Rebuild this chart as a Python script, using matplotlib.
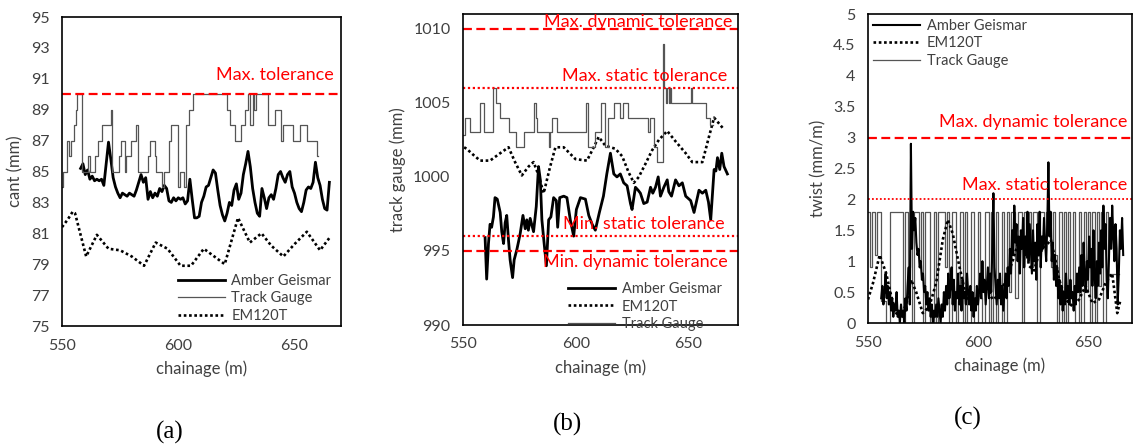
import numpy as np
import matplotlib
matplotlib.use("Agg")
import matplotlib.pyplot as plt

plt.rcParams['font.family'] = ['Lato', 'DejaVu Sans']

# ---------------- panel (a): cant ----------------
cant_amber_x = list(range(558, 666))
cant_amber = [85.2, 85.5, 84.8, 85.1, 84.5, 84.7, 84.4, 84.5, 84.4, 84.5,
              84.1, 85.5, 86.9, 85.8, 84.6, 84.0, 83.6, 83.3, 83.6, 83.5,
              83.4, 83.6, 83.5, 83.4, 83.8, 84.3, 84.8, 84.3, 84.6, 83.2,
              83.7, 83.3, 83.6, 83.4, 83.9, 83.7, 84.1, 83.9, 83.1, 83.0,
              83.3, 83.1, 83.3, 83.2, 83.3, 82.9, 83.1, 84.5, 83.2, 82.0,
              82.0, 82.1, 83.0, 83.4, 84.0, 84.1, 84.6, 85.1, 84.9, 83.8,
              82.8, 82.2, 81.8, 82.3, 83.0, 82.8, 83.8, 84.2, 83.2, 83.6,
              84.8, 85.5, 86.3, 85.3, 83.9, 83.0, 82.3, 82.1, 83.9, 83.3,
              82.6, 83.3, 83.5, 83.2, 83.9, 84.8, 85.0, 84.6, 84.3, 84.8,
              85.0, 84.0, 83.6, 83.0, 82.6, 82.4, 83.0, 83.8, 84.0, 83.9,
              84.3, 85.6, 84.6, 84.1, 83.2, 82.6, 82.5, 84.3]
cant_gauge_x = [550.0, 550.5, 552.3, 553.1, 553.8, 555.1, 556.0, 556.5, 558.4,
                561.2, 562.2, 564.1, 565.5, 567.0, 570.9, 571.6, 574.5, 575.5,
                577.0, 577.7, 579.8, 581.7, 582.7, 587.0, 588.0, 589.8, 590.5,
                592.8, 594.0, 596.0, 597.0, 599.8, 600.8, 602.5, 603.4, 604.8,
                606.3, 621.0, 622.2, 624.3, 627.2, 628.6, 630.0, 630.8, 632.0,
                632.6, 633.4, 634.2, 638.7, 641.8, 644.2, 645.0, 649.4, 652.3,
                655.2, 659.5, 660.0]
cant_gauge = [84, 85, 87, 86, 87, 88, 89, 90, 85,
              86, 85, 86, 87, 88, 89, 85, 86, 87,
              85, 86, 87, 88, 85, 86, 87, 86, 85,
              84, 85, 87, 88, 84, 85, 84, 88, 89,
              90, 89, 88, 87, 88, 89, 90, 88, 90,
              89, 90, 90, 88, 89, 87, 88, 87, 88,
              87, 86, 86]
cant_em_x = [550, 552.5, 554.6, 555.6, 560.4, 565, 570, 575, 580, 585.3, 590.3,
             595.4, 601, 605.5, 611, 620, 625.7, 630.8, 635.8, 640, 645.2,
             650, 655.3, 661, 665.5]
cant_em = [81.4, 81.9, 82.4, 82.3, 79.5, 80.9, 80.0, 79.9, 79.5, 78.9, 80.4,
           80.0, 78.9, 78.9, 80.0, 79.0, 82.0, 80.4, 81.0, 80.2, 79.5,
           80.3, 81.1, 79.9, 80.8]

# ---------------- panel (b): track gauge ----------------
gauge_amber_x = [559.8, 560.5, 561.3, 562.0, 562.7, 563.5, 564.2, 565.2, 566.5,
                 567.2, 568.0, 568.7, 569.4, 570.2, 570.9, 572.0, 572.7, 573.9,
                 574.6, 575.4, 576.6, 577.6, 578.3, 579.0, 579.8, 581.3, 582.5,
                 583.5, 584.3, 585.0, 586.0, 587.0, 588.0, 589.0, 590.2, 591.4,
                 592.0, 592.9, 594.7, 596.1, 597.6, 599.1, 600.3, 602.1, 604.3,
                 605.8, 607.3, 608.7, 610.5, 612.3, 613.8, 615.4, 616.9, 618.3,
                 619.8, 621.3, 622.8, 624.3, 625.0, 626.5, 627.7, 628.7, 630.2,
                 631.7, 633.2, 634.2, 635.4, 636.6, 637.6, 639.1, 640.6, 641.3,
                 642.5, 644.3, 645.8, 647.3, 648.8, 651.0, 652.5, 654.7, 656.2,
                 657.7, 658.9, 659.9, 661.4, 662.2, 662.9, 663.9, 664.8, 665.8,
                 667.3]
gauge_amber = [995.9, 993.1, 995.5, 996.8, 996.6, 997.3, 998.6, 998.5, 997.6,
               996.3, 995.5, 996.9, 997.4, 995.7, 994.4, 993.2, 994.4, 995.1,
               995.6, 996.2, 997.4, 996.5, 997.1, 996.4, 997.2, 996.3, 998.0,
               1000.7, 999.8, 997.1, 995.5, 994.0, 997.1, 997.3, 998.6, 998.4,
               996.6, 998.6, 998.7, 998.6, 997.1, 996.0, 997.8, 998.6, 998.5,
               997.4, 996.8, 996.4, 997.6, 998.7, 1000.2, 1001.6, 1000.2, 1000.0,
               1000.2, 999.6, 999.4, 998.2, 997.8, 999.3, 999.1, 998.9, 998.2,
               998.3, 999.3, 998.9, 999.3, 1000.0, 998.7, 999.3, 999.8, 999.0,
               998.7, 999.8, 999.4, 999.6, 998.7, 998.4, 997.6, 999.1, 998.9,
               999.1, 998.3, 997.1, 1000.5, 1000.4, 1001.3, 1000.5, 1001.6, 1000.7,
               1000.2]
gauge_em_x = [550.5, 551.6, 554.5, 557.6, 562.0, 566.5, 570.2, 573.1, 576.1,
              579.1, 581.3, 583.3, 585.8, 588.5, 591.0, 594.7, 599.9, 605.0,
              608.0, 610.2, 613.2, 617.6, 620.6, 623.5, 625.8, 628.0, 631.0,
              633.9, 636.9, 640.6, 644.3, 648.8, 651.7, 656.2, 659.1, 661.4,
              663.6, 665.8]
gauge_em = [1002.0, 1001.9, 1001.5, 1001.1, 1001.1, 1001.6, 1002.0, 1001.0, 1000.1,
            1000.7, 1001.0, 1000.2, 998.9, 1000.6, 1002.0, 1002.0, 1001.2, 1001.1,
            1002.0, 1002.7, 1002.1, 1001.9, 1001.4, 1000.3, 999.6, 1000.0, 1000.9,
            1001.8, 1002.5, 1003.1, 1002.4, 1001.6, 1001.0, 1001.0, 1002.7, 1004.0,
            1003.6, 1003.2]
gauge_tg_x = [550.0, 550.8, 553.2, 557.5, 559.2, 563.3, 564.8, 566.6, 570.5,
              573.5, 577.2, 581.3, 582.2, 583.0, 588.2, 588.8, 589.3, 591.8,
              604.6, 605.4, 608.5, 611.2, 613.0, 614.5, 616.8, 619.5, 621.2,
              623.2, 632.0, 633.0, 634.8, 636.2, 638.9, 639.3, 640.0, 640.6,
              641.2, 641.8, 642.4, 651.2, 651.6, 658.0, 659.5, 661.0]
gauge_tg = [1002.8, 1004, 1003, 1005, 1003, 1006, 1005, 1004, 1003,
            1002, 1003, 1005, 1004, 1003, 1002, 1003, 1004, 1003,
            1005, 1002, 1003, 1005, 1002, 1004, 1005, 1004, 1005,
            1004, 1003, 1004, 1002, 1001, 1009, 1006, 1005, 1006,
            1005, 1006, 1005, 1006, 1005, 1004, 1003.5, 1003.5]

# ---------------- panel (c): twist ----------------
twist_amber_x = np.arange(556, 666.5, 0.5)
twist_amber = [0.4, 0.6, 0.3, 0.5, 0.8, 0.4, 0.6, 0.3, 0.5, 0.2,
               0.4, 0.1, 0.3, 0.2, 0.5, 0.1, 0.2, 0.0, 0.3, 0.1,
               0.2, 0.0, 0.4, 0.2, 0.6, 0.9, 0.3, 2.9, 1.2, 1.8,
               1.5, 1.7, 1.3, 1.1, 1.2, 0.9, 1.0, 0.7, 0.8, 0.5,
               0.6, 0.3, 0.5, 0.2, 0.4, 0.1, 0.3, 0.0, 0.2, 0.1,
               0.3, 0.1, 0.4, 0.2, 0.0, 0.3, 0.1, 0.5, 0.2, 0.6,
               0.3, 0.8, 0.4, 0.6, 0.9, 0.3, 0.7, 0.2, 0.5, 0.4,
               0.8, 0.3, 0.6, 0.2, 0.7, 0.4, 0.5, 0.3, 0.8, 0.5,
               0.3, 0.6, 0.2, 0.5, 0.1, 0.4, 0.2, 0.6, 0.3, 0.5,
               0.8, 0.4, 1.0, 0.5, 0.7, 0.3, 0.6, 0.9, 0.4, 0.8,
               0.5, 1.2, 2.1, 0.9, 0.6, 0.3, 0.7, 0.4, 0.8, 0.3,
               0.6, 0.2, 0.5, 0.8, 0.4, 0.9, 0.6, 1.2, 0.8, 1.5,
               1.1, 1.9, 1.3, 1.6, 1.0, 1.4, 0.8, 1.5, 1.2, 1.7,
               0.9, 1.4, 1.1, 1.8, 1.0, 1.6, 1.2, 0.8, 1.5, 1.0,
               1.3, 0.7, 1.6, 1.1, 1.8, 0.9, 1.4, 1.2, 1.7, 1.3,
               1.0, 1.6, 2.6, 1.4, 1.8, 1.0, 1.3, 0.7, 1.1, 0.6,
               0.9, 0.4, 0.7, 0.3, 0.6, 0.2, 0.5, 0.3, 0.8, 0.4,
               0.6, 0.3, 0.7, 0.4, 0.5, 0.2, 0.6, 0.3, 0.8, 0.5,
               0.9, 0.5, 1.1, 0.6, 1.3, 0.8, 0.5, 1.0, 0.7, 1.4,
               0.9, 1.2, 0.6, 1.5, 0.8, 0.4, 1.0, 0.6, 1.3, 0.8,
               1.5, 0.9, 1.9, 1.2, 1.6, 0.7, 0.4, 1.0, 1.7, 1.2,
               1.9, 1.4, 1.0, 1.6, 1.2, 0.3, 0.8, 1.5, 1.2, 1.7,
               1.1]
twist_em_x = [550, 552.3, 555.3, 558.3, 560.6, 562.8, 564.4, 567.4, 569.6,
              571.9, 574.9, 577.9, 581.0, 584.0, 586.3, 588.5, 591.5, 594.6,
              597.6, 600.6, 603.6, 606.6, 609.6, 612.7, 615.7, 618.7, 621.0,
              623.3, 625.5, 627.8, 630.8, 633.1, 635.3, 636.9, 639.9, 642.9,
              645.9, 648.9, 652.0, 655.0, 658.0, 661.0, 663.3, 664.8]
twist_em = [0.38, 0.65, 1.1, 0.8, 0.43, 0.16, 0.1, 0.3, 0.7,
            0.5, 0.16, 0.27, 0.65, 1.35, 1.67, 1.45, 0.92, 0.43,
            0.22, 0.48, 0.6, 0.38, 0.45, 0.7, 1.0, 1.35, 1.3,
            0.92, 0.85, 1.13, 1.24, 1.35, 1.0, 0.7, 0.38, 0.27,
            0.38, 0.6, 0.32, 0.38, 0.65, 0.8, 0.16, 0.38]
twist_tg_x = list(range(550, 665))
twist_tg = [1.8, 0.9, 1.8, 1.1, 1.8, 1.8, 0.36, 0.36, 0, 0,
            1.8, 1.8, 1.8, 1.8, 1.8, 1.8, 0, 1.8, 0.9, 1.8,
            0, 1.8, 1.8, 0.9, 1.8, 0, 1.8, 1.8, 0, 0,
            1.8, 0, 1.8, 1.8, 1.8, 0.9, 1.8, 0, 1.8, 1.8,
            0, 0.36, 1.8, 0, 1.8, 0, 0, 1.8, 0, 0,
            1.8, 0.4, 0, 1.8, 1.8, 0, 1.8, 0, 1.8, 0,
            0, 1.8, 0, 1.8, 0.5, 1.8, 1.8, 0.4, 1.8, 1.8,
            0, 1.8, 1.1, 1.8, 0.9, 1.8, 1.8, 0, 1.8, 1.8,
            1.3, 1.8, 1.8, 0.9, 1.8, 1.1, 0, 1.8, 0, 1.8,
            0, 1.8, 0.3, 1.8, 0, 0, 1.8, 0, 1.8, 0.5,
            1.8, 0, 1.8, 0, 1.8, 0.6, 1.8, 0, 1.8, 0.8,
            0.8, 0.8, 0.8, 0.8, 0.8]

TXT = '#404040'
GRAY = '#555555'
RED = '#ff0000'
amber_kw = dict(color='black', lw=2.0, label='Amber Geismar')
em_kw = dict(color='black', lw=1.9, linestyle=(0, (1, 1)), label='EM120T')
tg_kw = dict(color=GRAY, lw=0.9, label='Track Gauge', drawstyle='steps-post')


def style_axes(ax, xlim, ylim, yticks, ylabel, yfmt=None):
    ax.set_xlim(*xlim)
    ax.set_ylim(*ylim)
    ax.set_xticks([550, 600, 650])
    ax.set_yticks(yticks)
    if yfmt is not None:
        ax.set_yticklabels([yfmt(v) for v in yticks])
    ax.tick_params(length=0, pad=9, labelsize=11.5, labelcolor=TXT)
    for s in ax.spines.values():
        s.set_linewidth(1.2)
        s.set_color('black')
    ax.set_xlabel('chainage (m)', fontsize=12, color=TXT, labelpad=6)
    ax.set_ylabel(ylabel, fontsize=12, color=TXT, labelpad=5)


def legend(ax, loc, anchor):
    leg = ax.legend(loc=loc, bbox_to_anchor=anchor, frameon=False, fontsize=10.5,
                    handlelength=3.2, handletextpad=0.45, labelspacing=0.25,
                    borderpad=0, borderaxespad=0)
    for t in leg.get_texts():
        t.set_color(TXT)


fig = plt.figure(figsize=(11.34, 4.44), dpi=100)

# (a)
ax = fig.add_axes([62 / 1134, 1 - 326 / 444, 279 / 1134, 309 / 444])
ax.plot(cant_amber_x, cant_amber, **amber_kw)
ax.plot(cant_gauge_x, cant_gauge, **tg_kw)
ax.plot(cant_em_x, cant_em, **em_kw)
ax.axhline(90, color=RED, lw=1.6, linestyle=(0, (4, 2)))
ax.text(667, 90.9, 'Max. tolerance', color=RED, fontsize=13, ha='right', va='baseline')
style_axes(ax, (550, 670), (75, 95), list(range(75, 96, 2)), 'cant (mm)')
legend(ax, 'lower right', (0.965, 0.01))

# (b)
ax = fig.add_axes([463 / 1134, 1 - 325 / 444, 275 / 1134, 311 / 444])
ax.plot(gauge_amber_x, gauge_amber, **amber_kw)
ax.plot(gauge_em_x, gauge_em, **em_kw)
ax.plot(gauge_tg_x, gauge_tg, **tg_kw)
for yv, ls in [(1010, (0, (4, 2))), (995, (0, (4, 2))), (1006, (0, (1, 1.2))), (996, (0, (1, 1.2)))]:
    ax.axhline(yv, color=RED, lw=1.6, linestyle=ls)
ax.text(669.6, 1010.15, 'Max. dynamic tolerance', color=RED, fontsize=13, ha='right', va='baseline')
ax.text(667.3, 1006.5, 'Max. static tolerance', color=RED, fontsize=13, ha='right', va='baseline')
ax.text(665.9, 996.45, 'Min. static tolerance', color=RED, fontsize=13, ha='right', va='baseline')
ax.text(667.3, 993.95, 'Min. dynamic tolerance', color=RED, fontsize=13, ha='right', va='baseline')
style_axes(ax, (550, 672), (990, 1011), list(range(990, 1011, 5)), 'track gauge (mm)')
legend(ax, 'lower right', (0.94, -0.02))

# (c)
ax = fig.add_axes([868 / 1134, 1 - 323 / 444, 264 / 1134, 309 / 444])
ax.plot(twist_tg_x, twist_tg, **tg_kw)
ax.plot(twist_em_x, twist_em, **em_kw)
ax.plot(twist_amber_x, twist_amber, color='black', lw=1.5, label='Amber Geismar')
ax.axhline(3, color=RED, lw=1.6, linestyle=(0, (4, 2)))
ax.axhline(2, color=RED, lw=1.3, linestyle=(0, (1, 1.2)))
ax.text(667.9, 3.17, 'Max. dynamic tolerance', color=RED, fontsize=13, ha='right', va='baseline')
ax.text(667.9, 2.15, 'Max. static tolerance', color=RED, fontsize=13, ha='right', va='baseline')
ticks_c = [0, 0.5, 1, 1.5, 2, 2.5, 3, 3.5, 4, 4.5, 5]
style_axes(ax, (550, 670), (0, 5), ticks_c, 'twist (mm/m)', yfmt=lambda v: f'{v:g}')
h, l = ax.get_legend_handles_labels()
order = [2, 1, 0]
leg = ax.legend([h[i] for i in order], [l[i] for i in order], loc='upper left',
                bbox_to_anchor=(0.02, 0.985), frameon=False, fontsize=10.5,
                handlelength=3.2, handletextpad=0.45, labelspacing=0.25,
                borderpad=0, borderaxespad=0)
for t in leg.get_texts():
    t.set_color(TXT)

for lab, x, y in [('(a)', 170, 432), ('(b)', 568, 424), ('(c)', 968, 418)]:
    fig.text(x / 1134, 1 - y / 444, lab, family='Liberation Serif', fontsize=18,
             ha='center', va='center', color='black')

fig.savefig('out.png', dpi=100)
